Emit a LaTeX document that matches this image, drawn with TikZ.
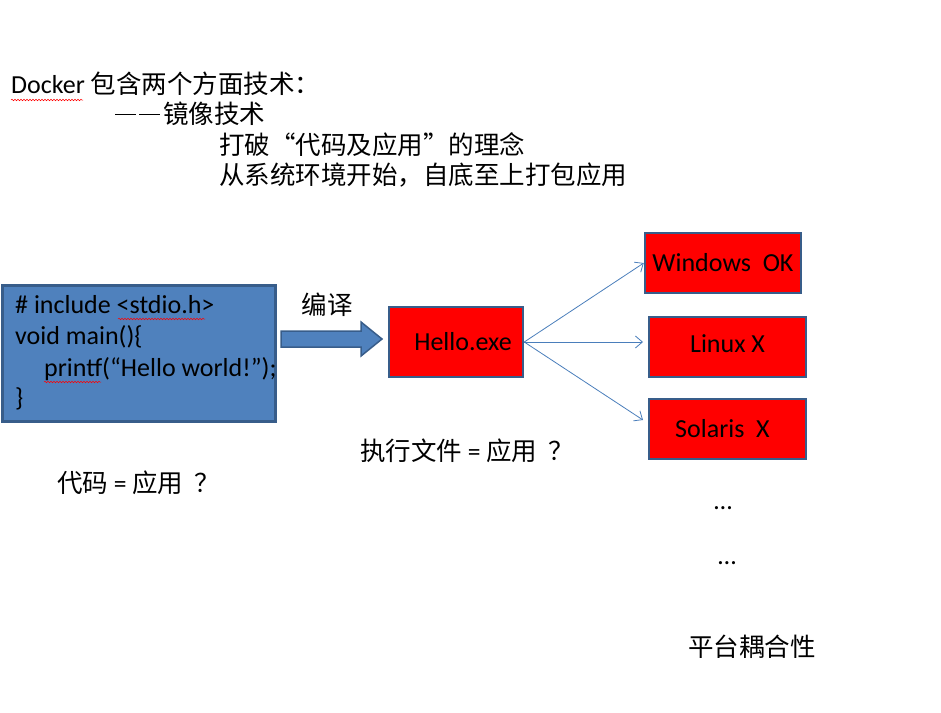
\documentclass[tikz,border=0pt]{standalone}
\usepackage{fontspec}
\setmainfont{Carlito}
\newfontfamily\cjk{Noto Sans CJK SC}
\usetikzlibrary{arrows.meta,decorations.pathmorphing}
\definecolor{codeblue}{HTML}{4F81BD}
\definecolor{edgeblue}{HTML}{385D8A}
\definecolor{linkblue}{HTML}{4A7EBB}
\newcommand{\zhdash}{\rule[0.3em]{21pt}{1.8pt}\hspace{3pt}}
\begin{document}
\begin{tikzpicture}[x=1pt,y=-1pt,
  lat/.style={font=\fontsize{26}{30}\selectfont, inner sep=0pt},
  zh/.style={font=\fontsize{25.5}{30}\selectfont\cjk, inner sep=0pt},
  codeline/.style={font=\fontsize{26}{30}\selectfont, inner sep=0pt, anchor=base west},
  redbox/.style={draw=edgeblue, line width=2.5pt, fill=red, inner sep=0pt,
    font=\fontsize{26}{30}\selectfont},
  link/.style={draw=linkblue, line width=0.8pt, -{Straight Barb[length=7pt,width=12pt,line width=0.8pt]}},
  squig/.style={draw=red, line width=0.5pt, decorate, decoration={snake, amplitude=0.8pt, segment length=3pt}}
]
\useasboundingbox (0,0) rectangle (941,712);

% title text
\node[lat, anchor=base west] (t1) at (11,93) {Docker {\cjk\fontsize{25.5}{30}\selectfont 包含两个方面技术：}};
\node[zh, anchor=base west] (t2) at (115,123) {\zhdash\zhdash 镜像技术};
\node[zh, anchor=base west] (t3) at (219,154) {打破“代码及应用”的理念};
\node[zh, anchor=base west] (t4) at (219,184) {从系统环境开始，自底至上打包应用};
\draw[squig] (11,100) -- (83,100);

% code box
\node[draw=edgeblue, line width=2.5pt, fill=codeblue, minimum width=273pt, minimum height=136pt, inner sep=0pt, anchor=north west] (code) at (1,284) {};
\node[codeline] (c1) at (15,313) {\# include <stdio.h>};
\node[codeline] (c2) at (15,344) {void main()\{};
\node[codeline] (c3) at (44,376) {printf(“Hello world!”);};
\node[codeline] (c4) at (15,406) {\}};
\draw[squig] (118,319) -- (205,319);
\draw[squig] (44,382) -- (101,382);

% block arrow
\draw[draw=edgeblue, line width=1.5pt, fill=codeblue]
  (281,331) -- (361,331) -- (361,322) -- (382,339) -- (361,356) -- (361,347) -- (281,347) -- cycle;
\node[zh] (compile) at (327,305) {编译};

% Hello.exe
\node[redbox, minimum width=134pt, minimum height=70pt] (hello) at (456,342) {\hspace*{14pt}Hello.exe};

% platform boxes
\node[redbox, minimum width=156pt, minimum height=60pt] (win) at (723,263) {Windows\ \ OK};
\node[redbox, minimum width=157pt, minimum height=60pt] (lin) at (727.5,347) {\raisebox{7pt}{Linux X}};
\node[redbox, minimum width=157pt, minimum height=60pt] (sol) at (727.5,429) {\hspace*{-10pt}Solaris\ \ X};

\coordinate (linend) at (643,342);
\coordinate (solend) at (643,420);
\draw[link] (hello.east) -- (win.west);
\draw[link] (hello.east) -- (linend);
\draw[link] (hello.east) -- (solend);

% captions
\node[zh, anchor=west] (exeq) at (360,451) {执行文件 {\fontspec{Carlito}=} 应用 \ ？};
\node[zh, anchor=west] (codeq) at (57,483) {代码 {\fontspec{Carlito}=} 应用 \ ？};
\node[lat, anchor=base] (dots1) at (723,509) {…};
\node[lat, anchor=base] (dots2) at (727,564) {…};
\node[zh] (couple) at (752,647) {平台耦合性};
\end{tikzpicture}
\end{document}
